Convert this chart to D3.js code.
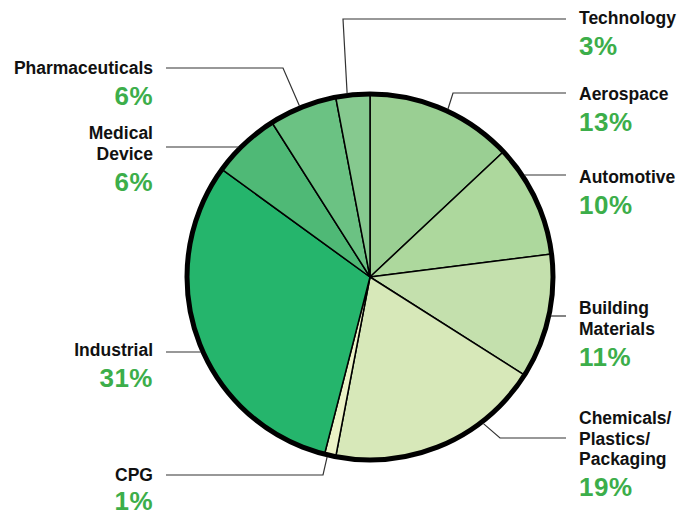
<!DOCTYPE html>
<html>
<head>
<meta charset="utf-8">
<script src="https://cdn.jsdelivr.net/npm/d3@7"></script>
<style>
  body { margin: 0; background: #fff; }
  svg { font-family: "Liberation Sans", Arial, Helvetica, sans-serif; }
  .lbl { font-weight: bold; font-size: 17.5px; fill: #111; }
  .pct { font-weight: bold; font-size: 26px; fill: #3cae4a; letter-spacing: 0.5px; }
</style>
</head>
<body>
<svg id="chart"></svg>
<script>
// sectors, clockwise from 12 o'clock
const sectors = ['Aerospace', 'Automotive', 'Building Materials', 'Chemicals/Plastics/Packaging',
  'CPG', 'Industrial', 'Medical Device', 'Pharmaceuticals', 'Technology'];
const shares = [13, 10, 11, 19, 1, 31, 6, 6, 3];
const labelLines = [['Aerospace'], ['Automotive'], ['Building', 'Materials'],
  ['Chemicals/', 'Plastics/', 'Packaging'], ['CPG'], ['Industrial'], ['Medical', 'Device'],
  ['Pharmaceuticals'], ['Technology']];
const sliceColors = ['#9acf93', '#add89d', '#c4e0ad', '#d7e8b9', '#ecf3c6',
  '#25b56c', '#4fb976', '#6bc283', '#86c98f'];

// label layout: side, first baseline, leader y, elbow x (null = straight), edge angle (deg)
const layout = [
  { side: 'r', y: 100, lineY: 93, elbow: 453, ang: 24.9 },
  { side: 'r', y: 183, lineY: 175, elbow: null, ang: 56.5 },
  { side: 'r', y: 314, lineY: 316, elbow: null, ang: 102.2 },
  { side: 'r', y: 424, lineY: 438, elbow: 500, ang: 142.3 },
  { side: 'l', y: 481, lineY: 475, elbow: 323, ang: 193.4 },
  { side: 'l', y: 356, lineY: 352, elbow: null, ang: 246.1 },
  { side: 'l', y: 139, lineY: 147, elbow: null, ang: 314.7 },
  { side: 'l', y: 74, lineY: 68, elbow: 283, ang: 337.6 },
  { side: 'r', y: 24, lineY: 19, elbow: 343, ang: 352.9 }
];

const width = 678, height = 516;
const cx = 370, cy = 277, radius = 183;

const svg = d3.select('#chart').attr('width', width).attr('height', height);
const g = svg.append('g').attr('transform', `translate(${cx},${cy})`);

const data = sectors.map((s, i) => ({ name: s, value: shares[i], color: sliceColors[i], lines: labelLines[i], lay: layout[i] }));

const pie = d3.pie().sort(null).value(d => d.value);
const arc = d3.arc().innerRadius(0).outerRadius(radius);

g.selectAll('path.slice')
  .data(pie(data))
  .join('path')
  .attr('class', 'slice')
  .attr('d', arc)
  .attr('fill', d => d.data.color)
  .attr('stroke', '#000')
  .attr('stroke-width', 1.5)
  .attr('stroke-linejoin', 'round');

g.append('circle')
  .attr('r', radius)
  .attr('fill', 'none')
  .attr('stroke', '#000')
  .attr('stroke-width', 5);

// leader lines + labels
const leftX = 153, rightX = 579;
data.forEach(d => {
  const L = d.lay;
  const a = L.ang * Math.PI / 180;
  const ex = cx + (radius + 2) * Math.sin(a);
  const ey = cy - (radius + 2) * Math.cos(a);
  const startX = L.side === 'l' ? 166 : 566;
  const pts = [[startX, L.lineY]];
  if (L.elbow !== null) pts.push([L.elbow, L.lineY]);
  pts.push([ex, L.elbow !== null ? ey : L.lineY]);
  svg.append('path')
    .attr('d', d3.line()(pts))
    .attr('fill', 'none')
    .attr('stroke', '#333')
    .attr('stroke-width', 1.2);

  const tx = L.side === 'l' ? leftX : rightX;
  const anchor = L.side === 'l' ? 'end' : 'start';
  d.lines.forEach((t, k) => {
    svg.append('text').attr('class', 'lbl')
      .attr('x', tx).attr('y', L.y + k * 20.5)
      .attr('text-anchor', anchor)
      .text(t);
  });
  svg.append('text').attr('class', 'pct')
    .attr('x', tx).attr('y', Math.min(L.y + (d.lines.length - 1) * 20.5 + 31, height - 6))
    .attr('text-anchor', anchor)
    .text(d.value + '%');
});
</script>
</body>
</html>
